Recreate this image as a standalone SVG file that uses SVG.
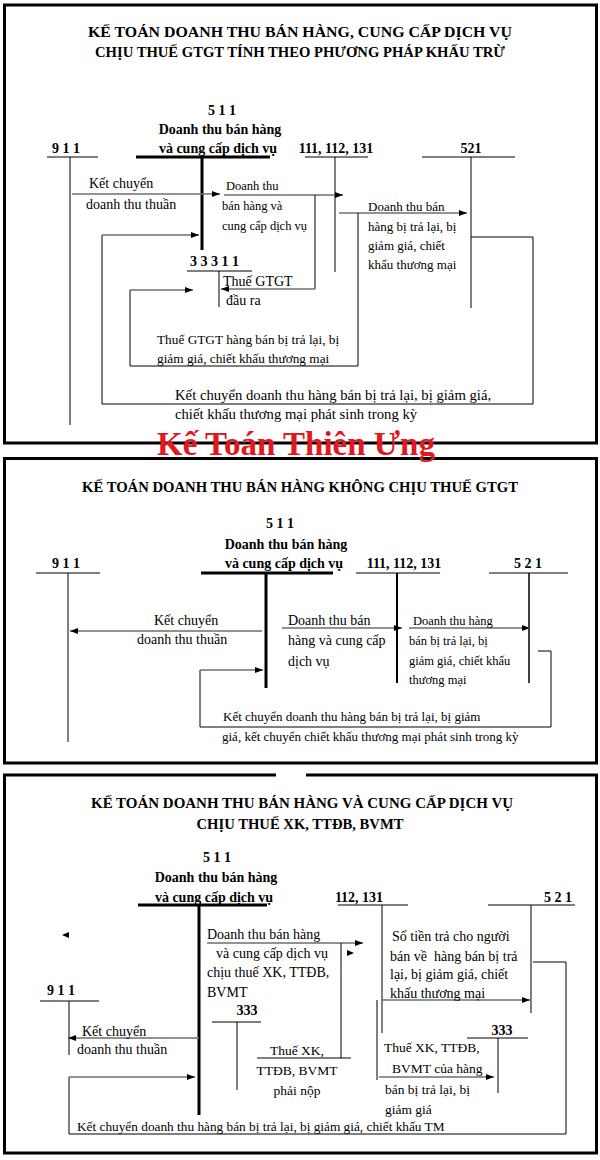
<svg xmlns="http://www.w3.org/2000/svg" width="600" height="1160" viewBox="0 0 600 1160">
<defs>
<marker id="ah" viewBox="0 0 8 6" refX="8" refY="3" markerWidth="8" markerHeight="6" markerUnits="userSpaceOnUse" orient="auto"><path d="M0,0 L8,3 L0,6 z" fill="#000"/></marker>
<style>
.frame{fill:none;stroke:#000;stroke-width:3}
.t{fill:none;stroke:#000;stroke-width:1}
.tb{fill:none;stroke:#000;stroke-width:3}
.t2{fill:none;stroke:#000;stroke-width:2}
.ln{fill:none;stroke:#000;stroke-width:1}
.ar{fill:none;stroke:#6e6e6e;stroke-width:1.6;marker-end:url(#ah)}
text{font-family:"Liberation Serif","Times New Roman",serif;fill:#000}
.h{font-size:14.5px;font-weight:bold;text-anchor:middle}
.acc{font-size:14px;font-weight:bold}
.m{text-anchor:middle}
.l14{font-size:14px}
.l13{font-size:13px}
.l135{font-size:13.5px}
.pre{white-space:pre}
.wm{font-size:33px;font-weight:bold;fill:#e3181f;text-anchor:middle}
</style>
</defs>
<rect width="600" height="1160" fill="#fff"/>

<!-- ============ SECTION 1 ============ -->
<g id="section1">
<rect class="frame" x="4.5" y="5" width="592" height="438"/>
<text class="h" x="300" y="37" textLength="424" lengthAdjust="spacingAndGlyphs">KẾ TOÁN DOANH THU BÁN HÀNG, CUNG CẤP DỊCH VỤ</text>
<text class="h" x="300" y="57" textLength="410" lengthAdjust="spacingAndGlyphs">CHỊU THUẾ GTGT TÍNH THEO PHƯƠNG PHÁP KHẤU TRỪ</text>
</g>
<g id="s1-911">
<text class="acc m" x="66" y="153">9 1 1</text>
<path class="t" d="M47,157 H98 M70,157 V425"/>
</g>
<g id="s1-511">
<text class="acc m" x="222" y="115">5 1 1</text>
<text class="acc m" x="220" y="134">Doanh thu bán hàng</text>
<text class="acc m" x="218" y="153">và cung cấp dịch vụ</text>
<path class="tb" d="M136,157 H270 M202,157 V250"/>
</g>
<g id="s1-111">
<text class="acc m" x="336" y="153">111, 112, 131</text>
<path class="t" d="M305,157 H368 M335,157 V272"/>
</g>
<g id="s1-521">
<text class="acc m" x="471" y="153">521</text>
<path class="t" d="M422,157 H515 M471,157 V308"/>
</g>
<g id="s1-33311">
<text class="acc" x="190" y="266">3 3 3 1 1</text>
<path class="t" d="M187,271 H252 M219,271 V307"/>
</g>
<g id="s1-connectors">
<path class="ar" d="M72,194 H220"/>
<path class="ar" d="M224,195 H343"/>
<path class="ln" d="M315,195 V289"/>
<path class="ar" d="M315,289 H221"/>
<path class="ar" d="M339,213 H467"/>
<path class="ln" d="M358,213 V366 H130 V290"/>
<path class="ar" d="M130,290 H193"/>
<path class="ln" d="M471,237 H533 V404 H102 V235"/>
<path class="ar" d="M102,235 H199"/>
</g>
<g id="s1-labels">
<text class="l14" x="89" y="188">Kết chuyển</text>
<text class="l14" x="86" y="209">doanh thu thuần</text>
<text x="226" y="190" style="font-size:12.5px">Doanh thu</text>
<text x="222" y="210" style="font-size:12.5px">bán hàng và</text>
<text x="222" y="230" style="font-size:12.5px">cung cấp dịch vụ</text>
<text class="l13" x="368" y="211">Doanh thu bán</text>
<text class="l13" x="368" y="231">hàng bị trả lại, bị</text>
<text class="l13" x="368" y="250">giảm giá, chiết</text>
<text class="l13" x="368" y="269">khấu thương mại</text>
<text class="l14" x="223" y="286">Thuế GTGT</text>
<text class="l14" x="226" y="305">đầu ra</text>
<text x="157" y="344" style="font-size:13.3px">Thuế GTGT hàng bán bị trả lại, bị</text>
<text x="157" y="363" style="font-size:13.3px">giảm giá, chiết khấu thương mại</text>
<text x="175" y="400" style="font-size:14.7px">Kết chuyển doanh thu hàng bán bị trả lại, bị giảm giá,</text>
<text x="175" y="419" style="font-size:14.7px">chiết khấu thương mại phát sinh trong kỳ</text>
</g>

<!-- ============ SECTION 2 ============ -->
<g id="section2">
<rect class="frame" x="4.5" y="458.5" width="592" height="304.5"/>
<text class="h" x="300" y="492" textLength="436" lengthAdjust="spacingAndGlyphs">KẾ TOÁN DOANH THU BÁN HÀNG KHÔNG CHỊU THUẾ GTGT</text>
</g>
<g id="s2-911">
<text class="acc m" x="66" y="568">9 1 1</text>
<path class="t" d="M36,573 H100 M68,573 V742"/>
</g>
<g id="s2-511">
<text class="acc m" x="280" y="528">5 1 1</text>
<text class="acc m" x="286" y="549">Doanh thu bán hàng</text>
<text class="acc m" x="284" y="568">và cung cấp dịch vụ</text>
<path class="tb" d="M201,573 H333 M266,573 V688"/>
</g>
<g id="s2-111">
<text class="acc m" x="404" y="568">111, 112, 131</text>
<path class="t" d="M356,573 H440"/>
<path class="t2" d="M397,573 V683"/>
</g>
<g id="s2-521">
<text class="acc m" x="528" y="568">5 2 1</text>
<path class="t" d="M489,573 H568"/>
<path class="t" style="stroke-width:1.5" d="M529,573 V683"/>
</g>
<g id="s2-connectors">
<path class="ar" d="M262,631 H70"/>
<path class="ar" d="M282,628 H402"/>
<path class="ar" d="M409,628 H530"/>
<path class="ln" d="M538,651 H551 V727 H200 V670"/>
<path class="ar" d="M200,670 H263"/>
</g>
<g id="s2-labels">
<text class="l14" x="154" y="625">Kết chuyển</text>
<text class="l14" x="137" y="644">doanh thu thuần</text>
<text class="l14" x="288" y="625">Doanh thu bán</text>
<text class="l14" x="288" y="645">hàng và cung cấp</text>
<text class="l14" x="288" y="666">dịch vụ</text>
<text x="413" y="625" style="font-size:12.5px">Doanh thu hàng</text>
<text x="409" y="645" style="font-size:12.5px">bán bị trả lại, bị</text>
<text x="409" y="665" style="font-size:12.5px">giảm giá, chiết khấu</text>
<text x="409" y="684" style="font-size:12.5px">thương mại</text>
<text class="l13" x="223" y="721">Kết chuyển doanh thu hàng bán bị trả lại, bị giảm</text>
<text class="l13" x="222" y="741">giá, kết chuyển chiết khấu thương mại phát sinh trong kỳ</text>
</g>

<!-- ============ SECTION 3 ============ -->
<g id="section3">
<rect class="frame" x="4.5" y="775" width="592" height="378"/>
<path d="M276,775 H306" stroke="#fff" stroke-width="4"/>
<text class="h" x="302" y="808" textLength="422" lengthAdjust="spacingAndGlyphs">KẾ TOÁN DOANH THU BÁN HÀNG VÀ CUNG CẤP DỊCH VỤ</text>
<text class="h" x="300" y="829" textLength="207" lengthAdjust="spacingAndGlyphs">CHỊU THUẾ XK, TTĐB, BVMT</text>
</g>
<g id="s3-511">
<text class="acc m" x="217" y="862">5 1 1</text>
<text class="acc m" x="216" y="882">Doanh thu bán hàng</text>
<text class="acc m" x="214" y="902">và cung cấp dịch vụ</text>
<path class="tb" d="M138,905 H267 M199,905 V1115"/>
</g>
<g id="s3-112">
<text class="acc m" x="359" y="902">112, 131</text>
<path class="t" d="M338,905 H408 M382,905 V1033"/>
</g>
<g id="s3-521">
<text class="acc m" x="558" y="902">5 2 1</text>
<path class="t" d="M488,905 H575 M531,905 V1013"/>
</g>
<g id="s3-911">
<text class="acc m" x="61" y="995">9 1 1</text>
<path class="t" d="M40,1001 H99 M69,1001 V1055"/>
</g>
<g id="s3-333a">
<text class="acc m" x="247" y="1015">333</text>
<path class="t" d="M212,1022 H261 M237,1022 V1090"/>
</g>
<g id="s3-333b">
<text class="acc m" x="502" y="1035">333</text>
<path class="t" d="M467,1038 H528 M498,1038 V1093"/>
</g>
<g id="s3-connectors">
<path class="ar" d="M207,943 H363"/>
<path class="ln" d="M341,943 V1058 M257,1058 H351"/>
<path d="M347,950 L354,953 L347,956 z" fill="#000"/>
<path d="M69,932 L62,935 L69,938 z" fill="#000"/>
<path class="ar" d="M382,1000 H530"/>
<path class="ln" d="M377,1000 V1080"/>
<path class="ar" d="M379,1077 H494"/>
<path class="ar" d="M199,1038 H68"/>
<path class="ln" d="M533,962 H566 V1134 H69 V1077"/>
<path class="ar" d="M69,1077 H195"/>
</g>
<g id="s3-labels">
<text class="l14" x="207" y="939">Doanh thu bán hàng</text>
<text class="l14" x="216" y="958">và cung cấp dịch vụ</text>
<text class="l14" x="207" y="977">chịu thuế XK, TTĐB,</text>
<text class="l14" x="207" y="997">BVMT</text>
<text class="l14" x="392" y="941">Số tiền trả cho người</text>
<text class="l14 pre" x="390" y="961">bán về  hàng bán bị trả</text>
<text class="l14" x="390" y="979">lại, bị giảm giá, chiết</text>
<text class="l14" x="390" y="998">khấu thương mại</text>
<text class="l14" x="82" y="1036">Kết chuyển</text>
<text class="l14" x="77" y="1054">doanh thu thuần</text>
<text class="l135 m" x="297" y="1055">Thuế XK,</text>
<text class="l135 m" x="297" y="1075">TTĐB, BVMT</text>
<text class="l135 m" x="297" y="1095">phải nộp</text>
<text class="l135" x="384" y="1052">Thuế XK, TTĐB,</text>
<text class="l135" x="392" y="1073">BVMT của hàng</text>
<text class="l135" x="385" y="1094">bán bị trả lại, bị</text>
<text class="l135" x="385" y="1114">giảm giá</text>
<text x="77" y="1131" style="font-size:13.3px">Kết chuyển doanh thu hàng bán bị trả lại, bị giảm giá, chiết khấu TM</text>
</g>

<g id="watermark">
<text class="wm" x="296" y="455">Kế Toán Thiên Ưng</text>
</g>
</svg>
